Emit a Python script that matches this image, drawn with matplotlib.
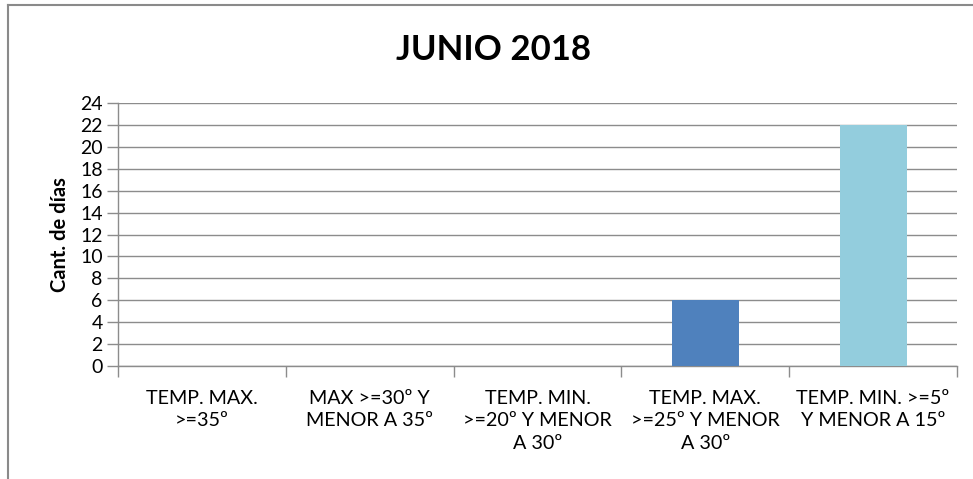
import numpy as np
import matplotlib
matplotlib.use("Agg")
import matplotlib.pyplot as plt
from matplotlib.lines import Line2D

plt.rcParams['font.family'] = ['Lato', 'DejaVu Sans']

categorias = ["TEMP. MAX.\n>=35º",
              "MAX >=30º Y\nMENOR A 35º",
              "TEMP. MIN.\n>=20º Y MENOR\nA 30º",
              "TEMP. MAX.\n>=25º Y MENOR\nA 30º",
              "TEMP. MIN. >=5º\nY MENOR A 15º"]
dias = [0, 0, 0, 6, 22]
colores = ["#4F81BD", "#C0504D", "#9BBB59", "#4F81BD", "#93CDDD"]
y_ticks = list(range(0, 25, 2))

W, H = 973, 479
fig = plt.figure(figsize=(W / 100, H / 100), dpi=100)

# borde del área del gráfico (recortado a la derecha y abajo)
fig.add_artist(Line2D([8 / W, 8 / W], [0, 1 - 5 / H], color="#8a8a8a", lw=1.5))
fig.add_artist(Line2D([8 / W, 1], [1 - 5 / H, 1 - 5 / H], color="#8a8a8a", lw=1.5))

ax = fig.add_axes([118 / W, (H - 366) / H, (957 - 118) / W, (366 - 103) / H])
x = np.arange(len(categorias))
ax.bar(x, dias, width=0.4, color=colores, zorder=3)

ax.set_xlim(-0.5, len(categorias) - 0.5)
ax.set_ylim(0, 24)
ax.set_yticks(y_ticks)
ax.set_yticklabels([str(v) for v in y_ticks], fontsize=14)
ax.yaxis.grid(True, color="#8c8c8c", lw=1)
ax.set_axisbelow(True)

ax.set_xticks(x)
ax.set_xticklabels(categorias, fontsize=14.2, linespacing=1.4, va="top")
ax.tick_params(axis="x", which="major", length=0, pad=17)
ax.set_xticks(np.arange(-0.5, len(categorias), 1), minor=True)
ax.tick_params(axis="x", which="minor", length=8, color="#8c8c8c", width=1)
ax.tick_params(axis="y", length=8, color="#8c8c8c", width=1, pad=3)

for s in ["top", "right"]:
    ax.spines[s].set_visible(False)
for s in ["left", "bottom"]:
    ax.spines[s].set_color("#8c8c8c")
    ax.spines[s].set_linewidth(1)

ax.set_ylabel("Cant. de días", fontsize=14.5, fontweight="bold", labelpad=7)
fig.text(494 / W, 1 - 50 / H, "JUNIO 2018", fontsize=25, fontweight="bold",
         ha="center", va="center")

fig.savefig("out.png", dpi=100)
